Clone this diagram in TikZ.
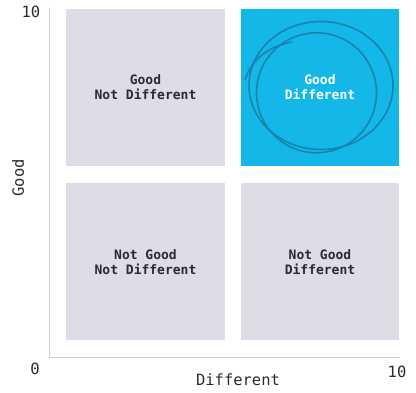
\documentclass[tikz,border=0pt]{standalone}
\usepackage{fontspec}
\setmonofont{DejaVu Sans Mono}
\usetikzlibrary{positioning}
\definecolor{quadGrey}{HTML}{DCDDE6}
\definecolor{quadBlue}{HTML}{13B8E8}
\definecolor{ringBlue}{HTML}{1684AB}
\definecolor{axisGrey}{HTML}{CCCCCC}
\definecolor{txtDark}{HTML}{2B2B2B}

\begin{document}
\begin{tikzpicture}[
    x=1pt, y=-1pt,
    quad/.style={minimum width=#1, minimum height=157pt, inner sep=0pt,
                 font=\ttfamily\bfseries\fontsize{13}{15}\selectfont,
                 align=center, text=txtDark, fill=quadGrey},
    axlab/.style={font=\ttfamily\fontsize{15.5}{17}\selectfont, text=txtDark},
    ring/.style={draw=ringBlue, line width=1.6pt},
  ]
  \useasboundingbox (0,0) rectangle (416,393);

  % --- quadrants ---
  \node[quad=159pt] (gnd) at (145.5,87.5) {Good\\Not Different};
  \node[quad=158pt, fill=quadBlue, text=white] (gd) at (320,87.5) {Good\\Different};
  \node[quad=159pt] (ngnd) at (145.5,262) {Not Good\\Not Different};
  \node[quad=158pt] (ngd) at (320,262) {Not Good\\Different};

  % --- axes ---
  \coordinate (org) at (49,357);
  \coordinate (ytop) at (49,8);
  \coordinate (xend) at (400,357);
  \draw[axisGrey, line width=0.8pt] (ytop) -- (org) -- (xend);

  \node[axlab] (zero) at (35,369) {0};
  \node[axlab] (ymax) at (31,12) {10};
  \node[axlab] (xmax) at (397,372) {10};
  \node[axlab] (xlab) at (238,380) {Different};
  \node[axlab, rotate=90] (ylab) at (18,178) {Good};

  % --- scribbled circle ---
  \draw[ring] (gd.center) ++(1,-2) ellipse[x radius=72pt, y radius=64pt];
  \draw[ring, rotate around={-15:(gd.center)}] (gd.center) ++(-2,6)
    ellipse[x radius=60pt, y radius=60pt];
  \draw[ring] (245,80) .. controls (252,58) and (270,46) .. (292,42);
\end{tikzpicture}
\end{document}
